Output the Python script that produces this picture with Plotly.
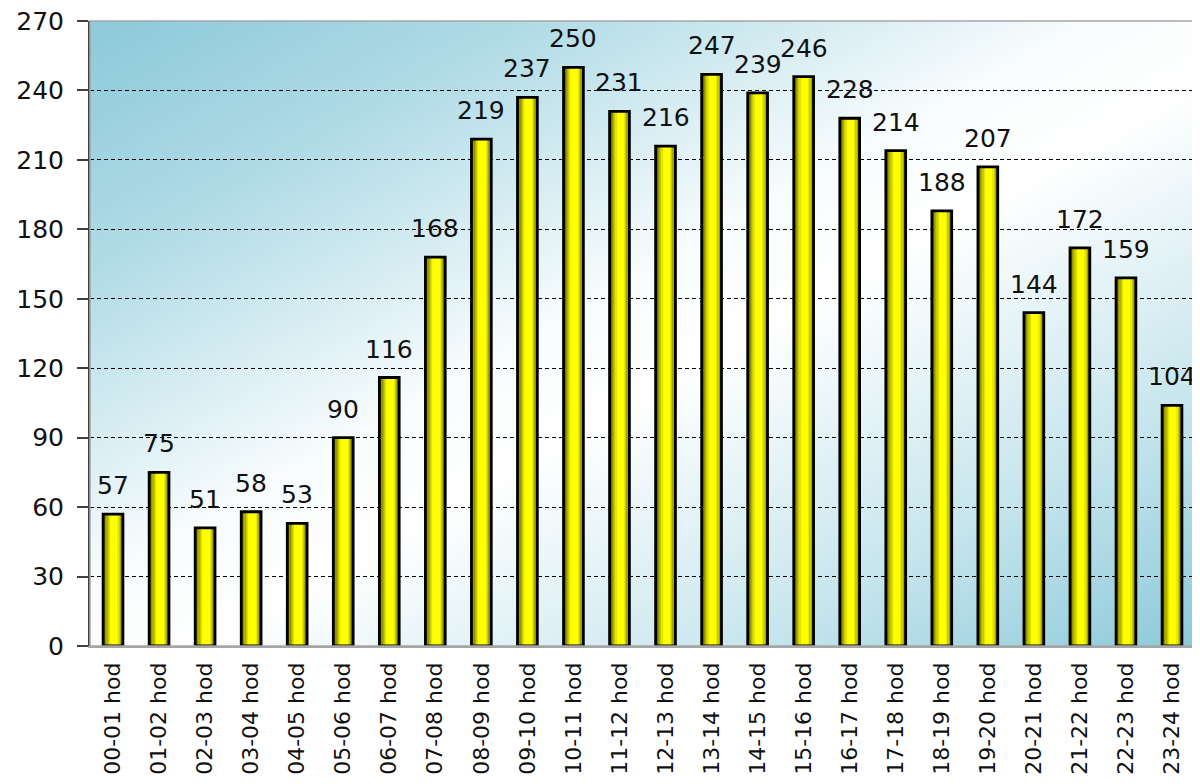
import base64
import plotly.graph_objects as go

categories = ["00-01 hod", "01-02 hod", "02-03 hod", "03-04 hod", "04-05 hod", "05-06 hod",
              "06-07 hod", "07-08 hod", "08-09 hod", "09-10 hod", "10-11 hod", "11-12 hod",
              "12-13 hod", "13-14 hod", "14-15 hod", "15-16 hod", "16-17 hod", "17-18 hod",
              "18-19 hod", "19-20 hod", "20-21 hod", "21-22 hod", "22-23 hod", "23-24 hod"]
values = [57, 75, 51, 58, 53, 90, 116, 168, 219, 237, 250, 231,
          216, 247, 239, 246, 228, 214, 188, 207, 144, 172, 159, 104]
y_ticks = [0, 30, 60, 90, 120, 150, 180, 210, 240, 270]

FONT = "DejaVu Sans"
BAR_W = 0.43
N_STRIPS = 16

def strip_color(p):
    # horizontal shading: dark left edge -> bright yellow -> darker right edge
    if p < 0.42:
        b = 0.15 + 0.85 * (p / 0.42) ** 0.7
    elif p < 0.72:
        b = 1.0
    else:
        b = 1.0 - 0.6 * ((p - 0.72) / 0.28) ** 1.3
    v = int(round(255 * b))
    return f"rgb({v},{v},0)"

fig = go.Figure()
for i in range(N_STRIPS):
    p = (i + 0.5) / N_STRIPS
    sw = BAR_W / N_STRIPS
    fig.add_trace(go.Bar(
        x=categories, y=values,
        width=sw * 1.15, offset=-BAR_W / 2 + i * sw,
        marker=dict(color=strip_color(p), line=dict(width=0)),
        hoverinfo="skip", showlegend=False,
    ))
# outline
fig.add_trace(go.Bar(
    x=categories, y=values, width=BAR_W, offset=-BAR_W / 2,
    marker=dict(color="rgba(0,0,0,0)", line=dict(color="black", width=2.8)),
    showlegend=False,
))

for c, v in zip(categories, values):
    fig.add_annotation(x=c, y=v, text=str(v), showarrow=False, yanchor="bottom",
                       yshift=12, font=dict(family=FONT, size=25, color="#111111"))

svg = ('<svg xmlns="http://www.w3.org/2000/svg" width="1000" height="600" preserveAspectRatio="none" viewBox="0 0 1000 600">'
       '<defs><linearGradient id="g" x1="0" y1="0" x2="1" y2="1">'
       '<stop offset="0" stop-color="#8CC9D9"/>'
       '<stop offset="0.2" stop-color="#B0DBE6"/>'
       '<stop offset="0.45" stop-color="#F8FCFD"/>'
       '<stop offset="0.55" stop-color="#FFFFFF"/>'
       '<stop offset="0.8" stop-color="#C6E5ED"/>'
       '<stop offset="1" stop-color="#8CC9D9"/>'
       '</linearGradient></defs><rect width="1000" height="600" fill="url(#g)"/></svg>')
src = "data:image/svg+xml;base64," + base64.b64encode(svg.encode()).decode()

fig.update_layout(
    width=1192, height=768,
    margin=dict(l=82, r=2, t=13, b=130),
    paper_bgcolor="white", plot_bgcolor="rgba(0,0,0,0)",
    barmode="overlay",
    images=[dict(source=src, xref="paper", yref="paper", x=0, y=1, sizex=1, sizey=1,
                 sizing="stretch", layer="below", xanchor="left", yanchor="top")],
    shapes=[dict(type="rect", xref="paper", yref="paper", x0=0, y0=0, x1=1, y1=1,
                 line=dict(color="#A6A6A6", width=1.5), layer="above")],
    font=dict(family=FONT, color="#111111"),
)
fig.update_xaxes(
    type="category", tickangle=-90, tickfont=dict(family=FONT, size=22),
    showline=True, linecolor="#A6A6A6", linewidth=1.5, ticks="", showgrid=False,
    ticklabelstandoff=6, automargin=False, ticklabeloverflow="allow",
)
fig.update_yaxes(
    range=[0, 270.02], tickvals=y_ticks, tickfont=dict(family=FONT, size=25),
    showgrid=True, gridcolor="black", gridwidth=1, griddash="4px,3px", zeroline=False,
    showline=True, linecolor="#404040", linewidth=2, ticks="outside", ticklen=11,
    tickcolor="#404040", tickwidth=1.5, ticklabelstandoff=8, layer="above traces",
    automargin=False, ticklabeloverflow="allow",
)
fig.write_html("out.html")
